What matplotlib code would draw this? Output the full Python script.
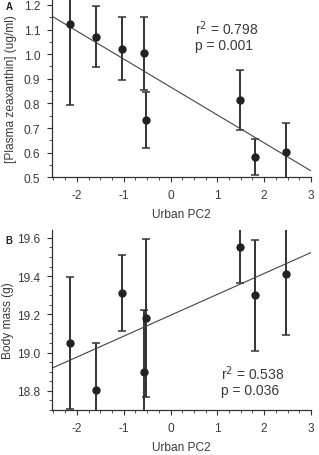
import matplotlib
matplotlib.use('Agg')
import matplotlib.pyplot as plt
from matplotlib.ticker import MultipleLocator

plt.rcParams['font.family'] = ['Liberation Sans', 'DejaVu Sans']
plt.rcParams['axes.unicode_minus'] = False

# site scores on urban PC2 (same sites in both panels)
pc2 = [-2.14, -1.59, -1.045, -0.57, -0.53, 1.48, 1.80, 2.47]

# panel A: plasma zeaxanthin (ug/ml), mean and error
zea = [1.121, 1.070, 1.022, 1.003, 0.733, 0.812, 0.582, 0.601]
zea_err = [0.327, 0.124, 0.127, 0.149, 0.115, 0.122, 0.072, 0.120]
zea_fit_x = [-2.53, 3.0]
zea_fit_y = [1.154, 0.526]

# panel B: body mass (g), mean and error
mass = [19.05, 18.805, 19.31, 18.90, 19.18, 19.55, 19.30, 19.41]
mass_err = [0.345, 0.245, 0.20, 0.32, 0.415, 0.185, 0.29, 0.32]
mass_fit_x = [-2.53, 3.0]
mass_fit_y = [18.918, 19.523]

txt = '#3a3a3a'
fs = 8.6

fig = plt.figure(figsize=(3.19, 4.56), dpi=100)
axA = fig.add_axes([0.163, 0.609, 0.812, 0.390])
axB = fig.add_axes([0.163, 0.099, 0.812, 0.394])

def style(ax):
    for s in ['top', 'right']:
        ax.spines[s].set_visible(False)
    for s in ['left', 'bottom']:
        ax.spines[s].set_color('#333333')
        ax.spines[s].set_linewidth(0.9)
    ax.set_xlim(-2.53, 3.0)
    ax.xaxis.set_major_locator(MultipleLocator(1))
    ax.xaxis.set_minor_locator(MultipleLocator(0.25))
    ax.tick_params(which='major', length=3.5, width=0.8, colors='#333333',
                   labelcolor=txt, labelsize=fs, pad=5)
    ax.tick_params(which='minor', length=2, width=0.6, colors='#333333')
    ax.set_xlabel('Urban PC2', fontsize=fs, color=txt, labelpad=5)

# panel A
axA.errorbar(pc2, zea, yerr=zea_err, fmt='o', color='#222222', ms=5,
             ecolor='#333333', elinewidth=1.4, capsize=2.8, capthick=1.1, clip_on=True)
axA.plot(zea_fit_x, zea_fit_y, '-', color='#444444', linewidth=0.8)
axA.set_ylim(0.5, 1.222)
axA.yaxis.set_major_locator(MultipleLocator(0.1))
axA.yaxis.set_minor_locator(MultipleLocator(0.05))
axA.yaxis.set_major_formatter(plt.FormatStrFormatter('%.1f'))
style(axA)
axA.set_ylabel('[Plasma zeaxanthin] (ug/ml)', fontsize=fs, color=txt)
axA.yaxis.set_label_coords(-0.135, 0.5)
axA.text(0.52, 1.077, 'r$^2$ = 0.798\np = 0.001', fontsize=10, color=txt,
         linespacing=1.1, va='center')
fig.text(0.018, 0.978, 'A', fontsize=7, fontweight='bold', color='#222222')

# panel B
axB.errorbar(pc2, mass, yerr=mass_err, fmt='o', color='#222222', ms=5,
             ecolor='#333333', elinewidth=1.4, capsize=2.8, capthick=1.1, clip_on=True)
axB.plot(mass_fit_x, mass_fit_y, '-', color='#444444', linewidth=0.8)
axB.set_ylim(18.7, 19.64)
axB.yaxis.set_major_locator(MultipleLocator(0.2))
axB.yaxis.set_minor_locator(MultipleLocator(0.05))
axB.yaxis.set_major_formatter(plt.FormatStrFormatter('%.1f'))
style(axB)
axB.set_ylabel('Body mass (g)', fontsize=fs, color=txt)
axB.yaxis.set_label_coords(-0.145, 0.5)
axB.text(1.08, 18.853, 'r$^2$ = 0.538\np = 0.036', fontsize=10, color=txt,
         linespacing=1.1, va='center')
fig.text(0.018, 0.465, 'B', fontsize=7, fontweight='bold', color='#222222')

fig.savefig('out.png', dpi=100)
